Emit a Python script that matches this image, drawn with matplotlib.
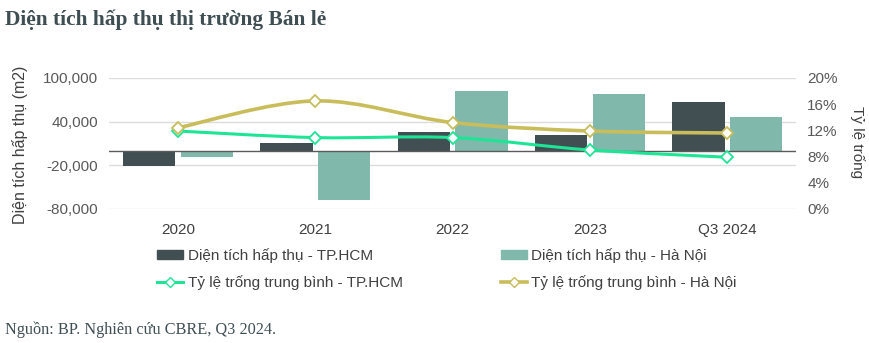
import matplotlib.pyplot as plt
from matplotlib.lines import Line2D
from matplotlib.patches import Patch, PathPatch
from matplotlib.path import Path
from matplotlib.ticker import FuncFormatter

categories = ["2020", "2021", "2022", "2023", "Q3 2024"]
absorption_hcm = [-21000, 11000, 26000, 21000, 67000]
absorption_hn = [-8000, -67000, 82000, 77500, 46000]
vacancy_hcm = [0.119, 0.109, 0.109, 0.090, 0.079]
vacancy_hn = [0.124, 0.165, 0.132, 0.119, 0.116]

left_ticks = [-80000, -20000, 40000, 100000]
right_ticks = [0.0, 0.04, 0.08, 0.12, 0.16, 0.20]

C_HCM_BAR = "#414f53"
C_HN_BAR = "#80b9ab"
C_HCM_LINE = "#1ee596"
C_HN_LINE = "#c9bd5b"
C_TEXT = "#595959"
C_GRID = "#dcdcdc"

plt.rcParams["font.family"] = ["Liberation Sans", "DejaVu Sans"]


def smooth_path(xs, ys):
    """Catmull-Rom style cubic Bezier through the points (Excel-like smoothing)."""
    pts = list(zip(xs, ys))
    verts = [pts[0]]
    codes = [Path.MOVETO]
    n = len(pts)
    for i in range(n - 1):
        p0 = pts[max(i - 1, 0)]
        p1 = pts[i]
        p2 = pts[i + 1]
        p3 = pts[min(i + 2, n - 1)]
        c1 = (p1[0] + (p2[0] - p0[0]) / 6, p1[1] + (p2[1] - p0[1]) / 6)
        c2 = (p2[0] - (p3[0] - p1[0]) / 6, p2[1] - (p3[1] - p1[1]) / 6)
        verts += [c1, c2, p2]
        codes += [Path.CURVE4] * 3
    return Path(verts, codes)


fig = plt.figure(figsize=(8.7, 3.43), dpi=100)
ax = fig.add_axes([0.1257, 0.3907, 0.7893, 0.382])
ax2 = ax.twinx()

x = list(range(len(categories)))
w = 0.38
off = 0.21
ax.bar([i - off for i in x], absorption_hcm, width=w, color=C_HCM_BAR, zorder=3)
ax.bar([i + off for i in x], absorption_hn, width=w, color=C_HN_BAR, zorder=3)
ax.axhline(0, color="#5a5a5a", lw=1.0, zorder=4)

ax.set_xlim(-0.5, len(categories) - 0.5)
ax.set_ylim(-80000, 100000)
ax.set_yticks(left_ticks)
ax.yaxis.set_major_formatter(FuncFormatter(lambda v, _: f"{int(v):,}"))
ax.set_xticks(x, categories)
ax.grid(axis="y", color=C_GRID, lw=1.0, zorder=0)
ax.tick_params(length=0, labelsize=11, colors=C_TEXT, pad=8)
ax.tick_params(axis="x", colors="#404040", pad=10)
for s in ax.spines.values():
    s.set_visible(False)
ax.set_ylabel("Diện tích hấp thụ (m2)", fontsize=11.5, color="#404040")
ax.yaxis.set_label_coords(-0.118, 0.49)

# vacancy lines on the secondary axis
for vals, col, lw in [(vacancy_hcm, C_HCM_LINE, 2.2), (vacancy_hn, C_HN_LINE, 2.6)]:
    ax2.add_patch(PathPatch(smooth_path(x, vals), facecolor="none", edgecolor=col,
                            lw=lw, zorder=3, capstyle="round"))
    ax2.plot(x, vals, ls="none", marker="D", ms=6.5, mfc="white", mec=col, mew=1.3, zorder=4)
ax2.set_ylim(0, 0.20)
ax2.set_yticks(right_ticks)
ax2.yaxis.set_major_formatter(FuncFormatter(lambda v, _: f"{v * 100:.0f}%"))
ax2.tick_params(length=0, labelsize=11, colors=C_TEXT, pad=8)
for s in ax2.spines.values():
    s.set_visible(False)
ax2.set_ylabel("Tỷ lệ trống", fontsize=11, color="#404040", rotation=270, va="center")
ax2.yaxis.set_label_coords(1.09, 0.51)

handles = [
    Patch(color=C_HCM_BAR, label="Diện tích hấp thụ - TP.HCM"),
    Line2D([], [], color=C_HCM_LINE, lw=2.2, marker="D", ms=5, mfc="white", mec=C_HCM_LINE,
           label="Tỷ lệ trống trung bình - TP.HCM"),
    Patch(color=C_HN_BAR, label="Diện tích hấp thụ - Hà Nội"),
    Line2D([], [], color=C_HN_LINE, lw=2.6, marker="D", ms=5, mfc="white", mec=C_HN_LINE,
           label="Tỷ lệ trống trung bình - Hà Nội"),
]
leg = fig.legend(handles=handles, ncol=2, loc="upper left", bbox_to_anchor=(0.172, 0.30),
                 frameon=False, fontsize=11, handlelength=1.7, handleheight=0.5,
                 handletextpad=0.3, columnspacing=6.4, labelspacing=0.8, borderpad=0)
for t in leg.get_texts():
    t.set_color("#404040")

fig.text(0.006, 0.942, "Diện tích hấp thụ thị trường Bán lẻ", family="Liberation Serif",
         fontsize=15.4, fontweight="bold", color="#3e4e53", va="center", ha="left")
fig.text(0.006, 0.04, "Nguồn: BP. Nghiên cứu CBRE, Q3 2024.", family="Liberation Serif",
         fontsize=11.7, color="#3e4e53", va="center", ha="left")

fig.savefig("out.png", dpi=100)
